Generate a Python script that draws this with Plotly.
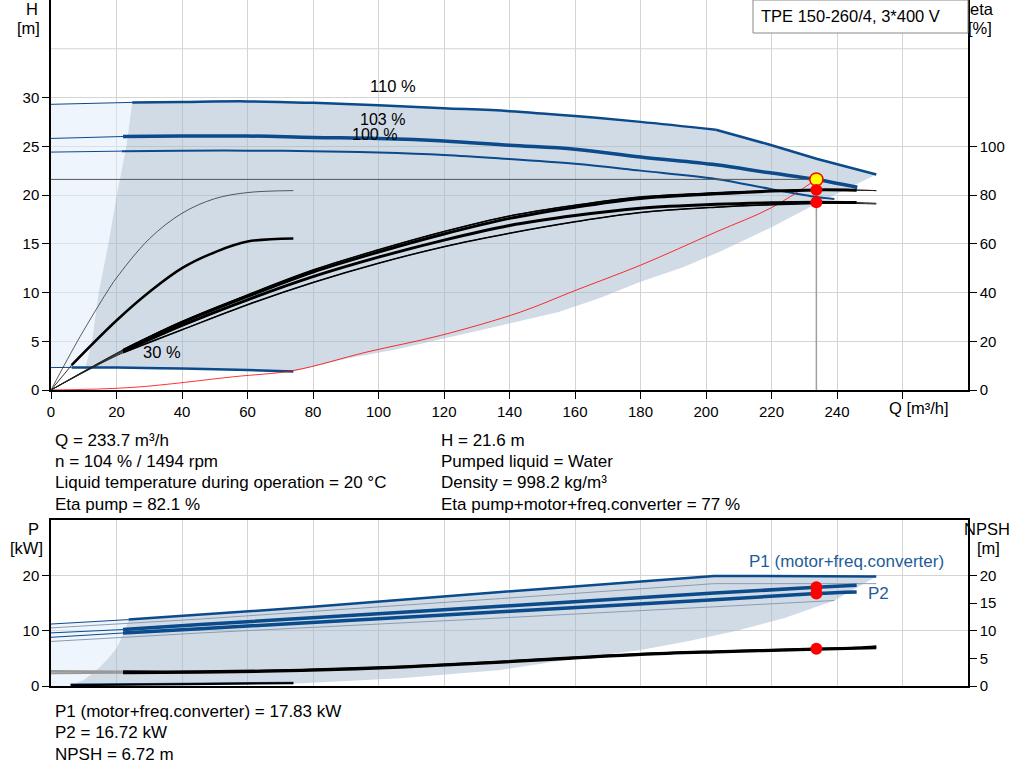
import plotly.graph_objects as go

W, H_PX = 1024, 781
FONT = "Arial, Liberation Sans, sans-serif"
BLUE = "#0b4a8b"
GRID = "#d4d4d4"

# duty point
Q_duty, H_duty = 233.7, 21.6
eta_pump, eta_total = 82.1, 77
P1_duty, P2_duty, NPSH_duty = 17.83, 16.72, 6.72

# ---- upper chart: head curves [m] ----
Q_110 = [0, 24.8, 40, 60, 80, 100, 120, 140, 160, 180, 203, 219, 234, 252]
H_110 = [29.3, 29.5, 29.55, 29.6, 29.45, 29.2, 28.9, 28.6, 28.1, 27.5, 26.7, 25.2, 23.7, 22.1]
Q_103 = [0, 22, 40, 60, 80, 100, 120, 140, 160, 180, 203, 219, 233.7, 246.2]
H_103 = [25.8, 26.0, 26.05, 26.05, 25.9, 25.8, 25.55, 25.1, 24.7, 23.9, 23.1, 22.3, 21.6, 20.8]
Q_100 = [0, 21.6, 40, 60, 80, 100, 120, 137.3, 160, 180, 203, 220, 233.6, 239.2]
H_100 = [24.4, 24.5, 24.55, 24.55, 24.5, 24.35, 24.1, 23.75, 23.2, 22.5, 21.65, 20.6, 19.8, 19.6]
Q_30 = [0, 6.3, 20, 40, 60, 74]
H_30 = [2.3, 2.32, 2.3, 2.2, 2.05, 1.9]

# system curve
Q_sys = [0, 25.1, 55.8, 74, 96.5, 119, 143.4, 160, 180, 203, 220, 233.7]
H_sys = [0, 0.27, 1.36, 2.0, 3.9, 5.6, 8.0, 10.2, 12.8, 16.2, 18.7, 21.6]

# operating envelope
Q_env_left = [10.5, 12.5, 14.5, 17.5, 20.3, 23, 24.8]
H_env_left = [2.3, 5.0, 9.9, 15, 20.4, 25, 29.5]
Q_env_low = [74, 90, 106, 120, 137, 155, 168, 180, 193, 205, 220, 233.7, 252]
H_env_low = [1.9, 3.2, 4.2, 5.3, 6.6, 8.0, 9.5, 11.1, 12.6, 14.3, 16.7, 19.1, 22.1]

# efficiency curves [%]
Q_eta = [0, 22, 40, 60, 80, 100, 120, 140, 160, 180, 203, 220, 233.7, 246, 252]
eta_p1 = [0, 16.5, 28.1, 39.0, 49.2, 57.5, 65.0, 71.4, 75.8, 79.2, 80.9, 81.7, 82.1, 82.0, 81.8]
eta_p2 = [0, 16.2, 27.6, 38.4, 48.4, 56.6, 64.0, 70.4, 75.0, 78.6, 80.5, 81.6, 82.1, 82.0, 81.8]
eta_t1 = [0, 15.8, 26.5, 37.0, 46.5, 54.5, 61.5, 67.5, 71.6, 74.6, 76.2, 76.8, 77.0, 76.9, 76.6]
eta_t2 = [0, 15.3, 24.7, 35.0, 44.1, 52.0, 58.8, 64.3, 69.0, 72.8, 75.0, 76.0, 76.5, 76.5, 76.3]
Q_eta30a = [0, 6, 10, 17, 20, 30, 40, 50, 60, 74]
eta_30a = [0, 15, 24.5, 40, 46, 62, 72.5, 78.5, 81, 81.8]
Q_eta30b = [0, 6.3, 20, 30.2, 40, 50.5, 60, 74]
eta_30b = [0, 10.2, 28.5, 40.4, 50, 56.8, 60.9, 62.2]

# ---- lower chart: power [kW] and NPSH [m] ----
Q_b1 = [0, 23.7, 45.6, 80, 137.3, 202.5, 252]
P_b1 = [11.2, 12.0, 12.9, 14.3, 17.0, 19.9, 19.8]
Q_b2 = [0, 22, 45.6, 137.3, 202.5, 252]
P_b2 = [10.5, 11.27, 12.1, 15.8, 18.5, 18.5]
Q_b3 = [0, 22, 45.6, 137.3, 202.5, 233.7, 246]
P_b3 = [9.6, 10.2, 11.1, 14.4, 16.8, 17.83, 18.2]
Q_b4 = [0, 22, 45.6, 137.3, 202.5, 233.7, 246]
P_b4 = [8.8, 9.58, 10.36, 13.4, 15.6, 16.72, 17.0]
Q_b5 = [0, 22, 45.6, 137.3, 202.5, 239.2]
P_b5 = [8.05, 8.85, 9.58, 12.3, 14.3, 15.45]
Q_p30 = [6, 40, 74]
P_p30a = [0.25, 0.4, 0.6]
P_p30b = [0.15, 0.3, 0.5]

Q_npsh = [0, 22, 45.6, 76.5, 106.7, 137.3, 160, 180, 203, 233.7, 246, 252]
NPSH_1 = [2.7, 2.6, 2.6, 2.9, 3.5, 4.4, 5.15, 5.8, 6.25, 6.72, 6.9, 7.15]
NPSH_2 = [2.3, 2.4, 2.5, 2.8, 3.4, 4.3, 5.05, 5.7, 6.15, 6.62, 6.8, 6.9]

Q_penv_low = [252, 239.2, 224, 208.7, 194.4, 180, 160.8, 137.3, 106.7, 76.5, 45.9]
P_penv_low = [19.8, 15.45, 12.3, 9.9, 8.1, 6.5, 5.0, 2.9, 1.4, 0.5, 0.1]
Q_penv_left = [6.3, 9.9, 12.5, 15, 17.5, 19.6, 21, 22.1, 22.8, 23.7]
P_penv_left = [0.2, 1.1, 2.2, 3.5, 5, 6.5, 8, 9.6, 10.5, 12.0]

x_ticks = list(range(0, 261, 20))

fig = go.Figure()


def line(x, y, color, width, xa="x", ya="y", shape="spline"):
    fig.add_trace(go.Scatter(x=x, y=y, mode="lines", xaxis=xa, yaxis=ya,
                             line=dict(color=color, width=width, shape=shape),
                             hoverinfo="skip"))


def area(x, y, color, xa="x", ya="y"):
    fig.add_trace(go.Scatter(x=x, y=y, mode="lines", fill="toself", fillcolor=color,
                             xaxis=xa, yaxis=ya, line=dict(width=0, color="rgba(0,0,0,0)"),
                             hoverinfo="skip"))


# upper envelope areas
q30_in = [q for q in Q_30 if q > Q_env_left[0]][::-1]
h30_in = [h for q, h in zip(Q_30, H_30) if q > Q_env_left[0]][::-1]
area(Q_110[1:] + Q_env_low[::-1] + q30_in + Q_env_left,
     H_110[1:] + H_env_low[::-1] + h30_in + H_env_left, "rgba(161,183,205,0.5)")
q30_l = [q for q in Q_30 if q < Q_env_left[0]]
h30_l = [h for q, h in zip(Q_30, H_30) if q < Q_env_left[0]]
area([0] + Q_110[:2] + Q_env_left[::-1] + q30_l[::-1],
     [H_110[0]] + H_110[:2] + H_env_left[::-1] + h30_l[::-1], "rgba(221,235,249,0.5)")

# head curves
line(Q_110[:2], H_110[:2], BLUE, 1)
line(Q_110[1:11], H_110[1:11], BLUE, 2.5)
line(Q_110[10:], H_110[10:], BLUE, 2.5, shape="linear")
line(Q_103[:2], H_103[:2], BLUE, 1)
line(Q_103[1:], H_103[1:], BLUE, 3.5)
line(Q_100[:2], H_100[:2], BLUE, 1)
line(Q_100[1:], H_100[1:], BLUE, 2)
line(Q_30[:2], H_30[:2], BLUE, 1)
line(Q_30[1:], H_30[1:], BLUE, 2.5)
line(Q_sys, H_sys, "rgba(255,0,0,0.8)", 1)

# efficiency curves
for eta in [eta_p1, eta_p2, eta_t1, eta_t2]:
    line(Q_eta, eta, "#222", 1, ya="y2")
line(Q_eta[1:-1], eta_p2[1:-1], "black", 3, ya="y2")
line(Q_eta[1:-1], eta_t1[1:-1], "black", 3, ya="y2")
line(Q_eta[1:-2], eta_p1[1:-2], "black", 1.5, ya="y2")
line(Q_eta[1:-2], eta_t2[1:-2], "black", 1.5, ya="y2")
line(Q_eta30a, eta_30a, "#333", 0.8, ya="y2")
line(Q_eta30b[:2], eta_30b[:2], "#333", 1, ya="y2")
line(Q_eta30b[1:], eta_30b[1:], "black", 2.5, ya="y2")

# duty point guides and markers
line([0, Q_duty], [H_duty, H_duty], "#555", 1, shape="linear")
line([Q_duty, Q_duty], [0, eta_total], "#a0a0a0", 1.5, ya="y2", shape="linear")
fig.add_trace(go.Scatter(x=[Q_duty, Q_duty], y=[eta_pump, eta_total], mode="markers",
                         yaxis="y2", marker=dict(color="red", size=12), hoverinfo="skip"))
fig.add_trace(go.Scatter(x=[Q_duty], y=[H_duty], mode="markers",
                         marker=dict(color="#ffff00", size=13, line=dict(color="red", width=1.5)),
                         hoverinfo="skip"))

# lower envelope areas
area(Q_b1[1:] + Q_penv_low + Q_penv_left, P_b1[1:] + P_penv_low + P_penv_left,
     "rgba(161,183,205,0.5)", "x2", "y3")
area([0, 0] + Q_b1[:2] + Q_penv_left[::-1] + [Q_penv_left[0]],
     [0, P_b1[0]] + P_b1[:2] + P_penv_left[::-1] + [0], "rgba(221,235,249,0.5)", "x2", "y3")

# power curves
line(Q_b2, P_b2, "#8d9bb0", 1, "x2", "y3", "linear")
line(Q_b5, P_b5, "#8d9bb0", 1, "x2", "y3", "linear")
line(Q_b1[:2], P_b1[:2], BLUE, 1, "x2", "y3", "linear")
line(Q_b1[1:], P_b1[1:], BLUE, 2.5, "x2", "y3", "linear")
line(Q_b3[:2], P_b3[:2], BLUE, 1, "x2", "y3", "linear")
line(Q_b3[1:], P_b3[1:], BLUE, 3.5, "x2", "y3")
line(Q_b4[:2], P_b4[:2], BLUE, 1, "x2", "y3", "linear")
line(Q_b4[1:], P_b4[1:], BLUE, 3.5, "x2", "y3")
line(Q_p30, P_p30a, BLUE, 2, "x2", "y3")
line(Q_p30, P_p30b, "black", 2, "x2", "y3")

# NPSH curves
line(Q_npsh[:2], NPSH_1[:2], "#999", 2, "x2", "y4")
line(Q_npsh[:2], NPSH_2[:2], "#999", 2, "x2", "y4")
line(Q_npsh[1:], NPSH_1[1:], "black", 2.5, "x2", "y4")
line(Q_npsh[1:], NPSH_2[1:], "black", 3, "x2", "y4")

fig.add_trace(go.Scatter(x=[Q_duty, Q_duty], y=[P1_duty, P2_duty], mode="markers",
                         xaxis="x2", yaxis="y3", marker=dict(color="red", size=12),
                         hoverinfo="skip"))
fig.add_trace(go.Scatter(x=[Q_duty], y=[NPSH_duty], mode="markers",
                         xaxis="x2", yaxis="y4", marker=dict(color="red", size=12),
                         hoverinfo="skip"))


def xd(px):
    return px / W


def yd(py):
    return 1 - py / H_PX


annotations = []


def note(x, y, text, anchor="left", size=17, color="black"):
    annotations.append(dict(x=xd(x), y=yd(y), xref="paper", yref="paper", text=text,
                            showarrow=False, xanchor=anchor, yanchor="middle",
                            font=dict(family=FONT, size=size, color=color)))


note(32, 9, "H", "center", 16.5)
note(28, 28, "[m]", "center", 16.5)
note(982, 9, "eta", "center", 16.5)
note(980, 28, "[%]", "center", 16.5)
note(33, 529, "P", "center", 16.5)
note(26, 548, "[kW]", "center", 16.5)
note(987, 529, "NPSH", "center", 16.5)
note(988, 548, "[m]", "center", 16.5)
note(919, 408, "Q [m³/h]", "center", 16.5)
note(393, 86, "110 %", "center", 16.5)
note(382, 120, "103 %", "center", 16)
note(374, 135, "100 %", "center", 16)
note(162, 352, "30 %", "center", 16.5)
note(759, 16, "TPE 150-260/4, 3*400 V", "left", 16.5)
note(946, 561, "P1 (motor+freq.converter)", "right", 17, "#1f5c99")
note(866, 593, "P2", "left", 17, "#1f5c99")

for i, t in enumerate(["Q = 233.7 m³/h", "n = 104 % / 1494 rpm",
                       "Liquid temperature during operation = 20 °C", "Eta pump = 82.1 %"]):
    note(53, 440 + i * 21.4, t)
for i, t in enumerate(["H = 21.6 m", "Pumped liquid = Water", "Density = 998.2 kg/m³",
                       "Eta pump+motor+freq.converter = 77 %"]):
    note(439, 440 + i * 21.4, t)
for i, t in enumerate(["P1 (motor+freq.converter) = 17.83 kW", "P2 = 16.72 kW",
                       "NPSH = 6.72 m"]):
    note(53, 711 + i * 21.5, t)

xdom = [xd(51), xd(968)]
axis_common = dict(showline=True, linecolor="black", linewidth=1.5, zeroline=False,
                   tickfont=dict(family=FONT, size=15, color="black"), ticks="outside",
                   tickcolor="black", ticklen=7, automargin=False)

fig.update_layout(
    width=W, height=H_PX, showlegend=False, plot_bgcolor="white", paper_bgcolor="white",
    margin=dict(l=0, r=0, t=0, b=0, pad=0),
    annotations=annotations,
    xaxis=dict(domain=xdom, range=[0, 280], anchor="y", tickvals=x_ticks,
               ticktext=[str(v) if v <= 240 else "" for v in x_ticks],
               showgrid=True, gridcolor=GRID, mirror=True, **axis_common),
    yaxis=dict(domain=[yd(390), 1], range=[0, 40], tickvals=list(range(0, 31, 5)),
               showgrid=True, gridcolor=GRID, mirror=True, **axis_common),
    yaxis2=dict(overlaying="y", side="right", anchor="x", range=[0, 160],
                tickvals=list(range(0, 101, 20)), showgrid=False, **axis_common),
    xaxis2=dict(domain=xdom, range=[0, 280], anchor="y3", tickvals=x_ticks,
                showticklabels=False, showgrid=True, gridcolor=GRID, mirror=True,
                showline=True, linecolor="black", linewidth=1.5, zeroline=False,
                automargin=False),
    yaxis3=dict(domain=[yd(686), yd(520)], range=[0, 30], tickvals=[0, 10, 20],
                anchor="x2", showgrid=True, gridcolor=GRID, mirror=True, **axis_common),
    yaxis4=dict(overlaying="y3", side="right", anchor="x2", range=[0, 30],
                tickvals=list(range(0, 21, 5)), showgrid=False, **axis_common),
    shapes=[
        dict(type="line", xref="x", yref="y", x0=0, x1=280, y0=35, y1=35,
             line=dict(color=GRID, width=1), layer="below"),
        dict(type="rect", xref="paper", yref="paper", x0=xd(753), x1=xd(968),
             y0=yd(33), y1=yd(0), line=dict(color="#888", width=1), fillcolor="white"),
    ],
)

# page body has a default 8px margin; drop it so the figure sits at the top-left corner
fig.write_html("out.html", config={"displayModeBar": False},
               post_script="document.body.style.margin = '0px';")
